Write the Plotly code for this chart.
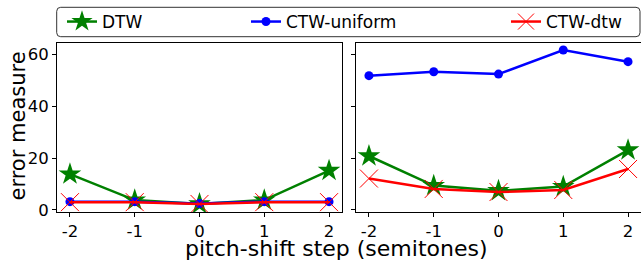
import plotly.graph_objects as go
from plotly.subplots import make_subplots

steps = [-2, -1, 0, 1, 2]
tick_labels = ["-2", "-1", "0", "1", "2"]

# left panel
left_dtw = [13.8, 3.8, 2.3, 3.8, 15.2]
left_ctw_uniform = [3.2, 3.2, 2.5, 3.2, 3.2]
left_ctw_dtw = [3.0, 3.0, 2.3, 3.0, 3.0]

# right panel
right_dtw = [20.8, 9.4, 7.4, 9.0, 23.1]
right_ctw_uniform = [51.8, 53.3, 52.4, 61.7, 57.2]
right_ctw_dtw = [12.1, 8.1, 6.9, 7.7, 15.8]

names = ["DTW", "CTW-uniform", "CTW-dtw"]
colors = ["green", "blue", "red"]

W, H = 641, 260
FONT = "DejaVu Sans"

fig = make_subplots(rows=1, cols=2, shared_yaxes=True)

def add_series(col, dtw, uni, cdtw, show):
    fig.add_trace(go.Scatter(x=steps, y=dtw, mode="lines+markers", name=names[0],
                             line=dict(color=colors[0], width=2.5),
                             marker=dict(symbol="star", size=17, color=colors[0]),
                             showlegend=show, legend="legend"), row=1, col=col)
    fig.add_trace(go.Scatter(x=steps, y=uni, mode="lines+markers", name=names[1],
                             line=dict(color=colors[1], width=2.5),
                             marker=dict(symbol="circle", size=9, color=colors[1]),
                             showlegend=show, legend="legend2"), row=1, col=col)
    fig.add_trace(go.Scatter(x=steps, y=cdtw, mode="lines+markers", name=names[2],
                             line=dict(color=colors[2], width=2.5),
                             marker=dict(symbol="x-thin-open", size=18, color=colors[2],
                                         line=dict(color=colors[2], width=1)),
                             showlegend=show, legend="legend3"), row=1, col=col)

add_series(1, left_dtw, left_ctw_uniform, left_ctw_dtw, True)
add_series(2, right_dtw, right_ctw_uniform, right_ctw_dtw, False)

def px_x(p):
    return p / W

def px_y(p):
    return 1 - p / H

axis_common = dict(range=[-2.2, 2.2], tickvals=steps, ticktext=tick_labels,
                   showline=True, linecolor="black", linewidth=1, mirror=True,
                   ticks="outside", ticklen=4, tickcolor="black", showgrid=False,
                   zeroline=False, automargin=False,
                   tickfont=dict(family=FONT, size=16.5, color="black"))
fig.update_xaxes(**axis_common)
fig.update_xaxes(domain=[px_x(57), px_x(342)], row=1, col=1)
fig.update_xaxes(domain=[px_x(356), 1.0], row=1, col=2)

yaxis_common = dict(range=[-0.8, 64.4], tickvals=[0, 20, 40, 60],
                    showline=True, linecolor="black", linewidth=1, mirror=True,
                    ticks="outside", ticklen=4, tickcolor="black", showgrid=False,
                    zeroline=False, automargin=False,
                    tickfont=dict(family=FONT, size=16.5, color="black"),
                    domain=[px_y(212), px_y(43)])
fig.update_yaxes(**yaxis_common)
fig.update_yaxes(showticklabels=False, mirror=False, row=1, col=2)

leg_common = dict(orientation="h", xanchor="left", yanchor="middle", y=px_y(22),
                  xref="paper", yref="paper", bgcolor="rgba(0,0,0,0)", borderwidth=0,
                  font=dict(family=FONT, size=17, color="black"))
fig.update_layout(
    legend=dict(x=px_x(62), **leg_common),
    legend2=dict(x=px_x(246), **leg_common),
    legend3=dict(x=px_x(506), **leg_common),
)

# legend frame (rounded)
x0, x1, y0, y1, r = 56.7, 640, 7.3, 36.7, 4
path = (f"M {px_x(x0 + r)} {px_y(y0)} L {px_x(x1 - r)} {px_y(y0)} "
        f"Q {px_x(x1)} {px_y(y0)} {px_x(x1)} {px_y(y0 + r)} "
        f"L {px_x(x1)} {px_y(y1 - r)} Q {px_x(x1)} {px_y(y1)} {px_x(x1 - r)} {px_y(y1)} "
        f"L {px_x(x0 + r)} {px_y(y1)} Q {px_x(x0)} {px_y(y1)} {px_x(x0)} {px_y(y1 - r)} "
        f"L {px_x(x0)} {px_y(y0 + r)} Q {px_x(x0)} {px_y(y0)} {px_x(x0 + r)} {px_y(y0)} Z")
fig.add_shape(type="path", path=path, xref="paper", yref="paper",
              line=dict(color="#333333", width=1))

fig.add_annotation(text="pitch-shift step (semitones)", x=px_x(336), y=px_y(248.5),
                   xref="paper", yref="paper", showarrow=False, xanchor="center",
                   yanchor="middle", font=dict(family=FONT, size=22, color="black"))
fig.add_annotation(text="error measure", x=px_x(17.5), y=px_y(126), textangle=-90,
                   xref="paper", yref="paper", showarrow=False, xanchor="center",
                   yanchor="middle", font=dict(family=FONT, size=21, color="black"))

fig.update_layout(width=W, height=H,
                  margin=dict(l=0, r=0, t=0, b=0, pad=0, autoexpand=False),
                  plot_bgcolor="white", paper_bgcolor="white")

post = (
    "var h=document.documentElement, b=document.body;"
    "h.style.margin='0px'; h.style.overflow='hidden';"
    "b.style.margin='0px'; b.style.overflow='hidden';"
)
fig.write_html("out.html", config={"displayModeBar": False}, post_script=post)
